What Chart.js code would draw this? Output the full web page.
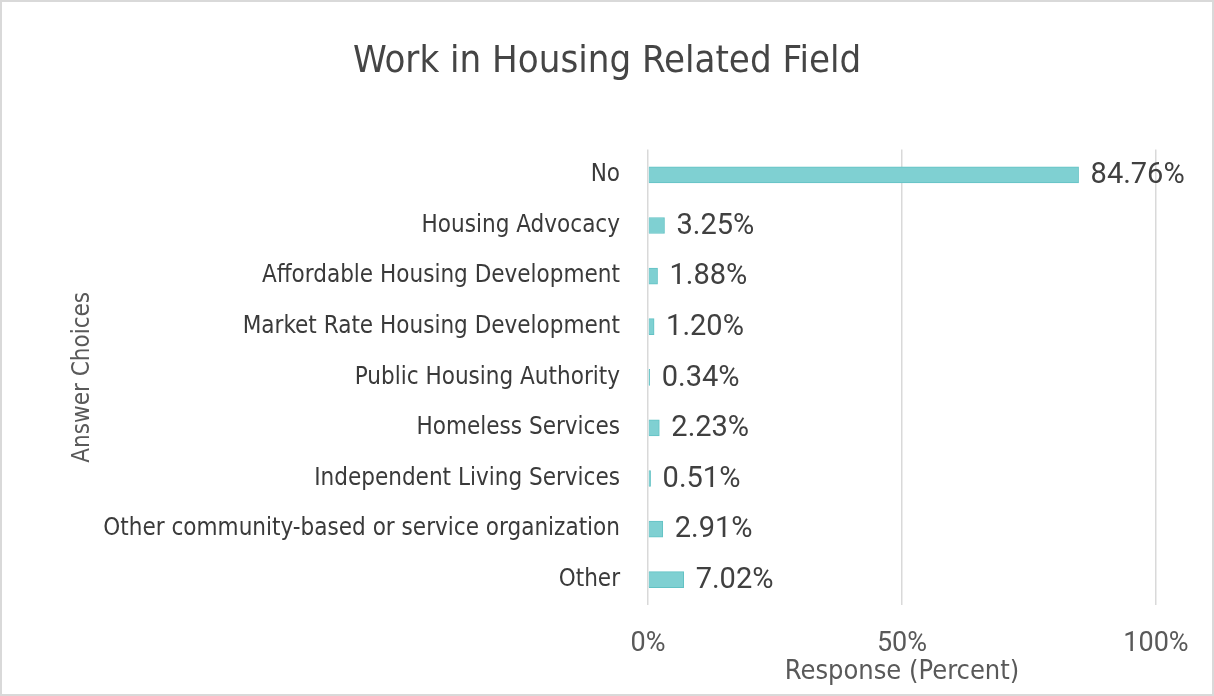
<!DOCTYPE html>
<html lang="en">
<head>
    <meta charset="UTF-8">
    <script src="https://cdn.jsdelivr.net/npm/chart.js"></script>
    <style>
        body { margin: 0; padding: 0; background: #ffffff; }
        .chart-container {
            position: relative;
            width: 1214px;
            height: 696px;
            box-sizing: border-box;
            border: 2px solid #d9d9d9;
        }
    </style>
</head>
<body>

    <div class="chart-container">
        <canvas id="myChart"></canvas>
    </div>

    <script>
        // --- DATA ---
        const categories = [
            'No',
            'Housing Advocacy',
            'Affordable Housing Development',
            'Market Rate Housing Development',
            'Public Housing Authority',
            'Homeless Services',
            'Independent Living Services',
            'Other community-based or service organization',
            'Other'
        ];
        const responsePercent = [84.76, 3.25, 1.88, 1.20, 0.34, 2.23, 0.51, 2.91, 7.02];
        const xTicks = [0, 50, 100];

        const narrow = "'Liberation Sans Narrow', 'DejaVu Sans Condensed', 'Roboto Condensed', sans-serif";

        // draws "84.76%" etc. just past the end of each bar
        const valueLabels = {
            id: 'valueLabels',
            afterDatasetsDraw(chart) {
                const ctx = chart.ctx;
                const meta = chart.getDatasetMeta(0);
                ctx.save();
                ctx.font = '29px Roboto, sans-serif';
                ctx.fillStyle = '#404040';
                ctx.textBaseline = 'middle';
                ctx.textAlign = 'left';
                meta.data.forEach((bar, i) => {
                    ctx.fillText(responsePercent[i].toFixed(2) + '%', bar.x + 12, bar.y + 1);
                });
                ctx.restore();
            }
        };

        const ctx = document.getElementById('myChart').getContext('2d');
        new Chart(ctx, {
            type: 'bar',
            data: {
                labels: categories,
                datasets: [{
                    label: 'Response (Percent)',
                    data: responsePercent,
                    backgroundColor: '#7fd0d2',
                    borderColor: '#62c2c4',
                    borderWidth: 1,
                    barThickness: 16
                }]
            },
            options: {
                indexAxis: 'y',
                responsive: true,
                maintainAspectRatio: false,
                animation: false,
                layout: {
                    // symmetric side padding keeps the title centred where the reference has it
                    padding: { left: 56, right: 56, top: 0, bottom: 6 }
                },
                scales: {
                    x: {
                        min: 0,
                        max: 100,
                        afterBuildTicks: (scale) => {
                            scale.ticks = xTicks.map(v => ({ value: v }));
                        },
                        afterFit: (scale) => { scale.height = 83; },
                        grid: { color: '#d9d9d9', lineWidth: 1.5, drawTicks: false },
                        border: { display: false },
                        ticks: {
                            padding: 23,
                            color: '#595959',
                            maxRotation: 0,
                            font: { size: 27, family: 'Roboto, sans-serif' },
                            callback: (v) => v + '%'
                        },
                        title: {
                            display: true,
                            text: 'Response (Percent)',
                            color: '#595959',
                            padding: 0,
                            font: { size: 27, family: narrow }
                        }
                    },
                    y: {
                        afterFit: (scale) => { scale.width = 590; },
                        grid: { display: false, drawTicks: false },
                        border: { display: false },
                        ticks: {
                            padding: 28,
                            color: '#3a3a3a',
                            autoSkip: false,
                            font: { size: 24, family: narrow }
                        },
                        title: {
                            display: true,
                            text: 'Answer Choices',
                            color: '#595959',
                            padding: { top: 10, bottom: 0 },
                            font: { size: 24, family: narrow }
                        }
                    }
                },
                plugins: {
                    legend: { display: false },
                    tooltip: { enabled: false },
                    title: {
                        display: true,
                        text: 'Work in Housing Related Field',
                        color: '#454545',
                        padding: { top: 37, bottom: 65 },
                        font: { size: 38, weight: 'normal', family: narrow }
                    }
                }
            },
            plugins: [valueLabels]
        });
    </script>
</body>
</html>
